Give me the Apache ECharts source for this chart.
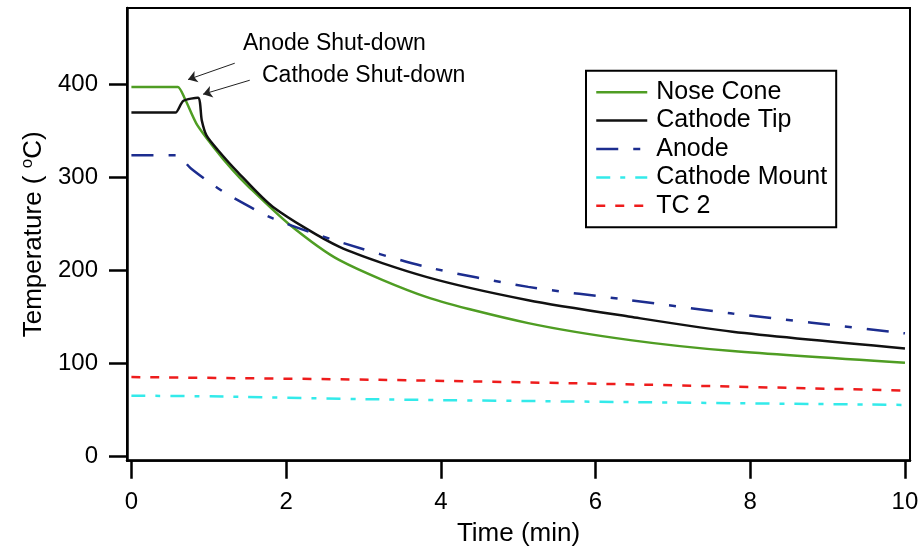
<!DOCTYPE html>
<html>
<head>
<meta charset="utf-8">
<script src="https://cdn.jsdelivr.net/npm/echarts@6/dist/echarts.min.js"></script>
<style>html,body{margin:0;padding:0;background:#fff}#c{width:924px;height:554px}</style>
</head>
<body>
<div id="c"></div>
<script>
// ---- data (time in min, temperature in °C) ----
const seriesNames = ['Nose Cone', 'Cathode Tip', 'Anode', 'Cathode Mount', 'TC 2'];
const noseCone = [[0,397],[0.5,397],[0.6,397],[0.69,384.6],[0.84,357.7],[1.06,332.6],[1.31,307.5],[1.5,291],[2.03,250],[2.69,210.8],[3.81,171.3],[5.13,143],[6.45,124.7],[7.77,112.9],[10,100.3]];
const cathodeTip = [[0,369.5],[0.5,369.5],[0.57,369.5],[0.67,382],[0.86,385.5],[0.91,361],[0.97,345],[1.12,329],[1.38,305],[1.83,268],[2.69,225],[3.81,192.8],[5.13,167.7],[6.45,149.8],[7.77,133.7],[10,115.8]];
const anode = [[0,323.7],[0.5,323.7],[0.58,323.7],[0.77,309.4],[1.06,291.4],[1.30,278.8],[1.83,255.6],[2.62,232.3],[3.81,203.5],[5.13,182],[6.45,167.7],[7.77,153.4],[10,132]];
const cathodeMount = [[0,65],[1.2,64],[3.2,61],[6.5,58],[10,55]];
const tc2 = [[0,85],[3.2,82],[6.5,77],[10,70.5]];
const xTicks = [0, 2, 4, 6, 8, 10];
const yTicks = [0, 100, 200, 300, 400];
// annotation arrows: [tail, head] in data coordinates
const anodeArrow = [[1.336, 422.6], [0.732, 405]];
const cathodeArrow = [[1.53, 404.3], [0.926, 389.2]];
const annotationTexts = ['Anode Shut-down', 'Cathode Shut-down'];

const FONT = '"Liberation Sans", Arial, sans-serif';
const chart = echarts.init(document.getElementById('c'), null, {renderer: 'canvas'});

function lineSeries(name, data, color, type) {
  return {
    name: name, type: 'line', data: data, symbol: 'none', showSymbol: false,
    smooth: 0.25, silent: true, animation: false,
    lineStyle: {color: color, width: 2.5, type: type},
    itemStyle: {color: color},
    emphasis: {disabled: true}
  };
}

const series = [
  lineSeries(seriesNames[0], noseCone, '#4f9d23', 'solid'),
  lineSeries(seriesNames[1], cathodeTip, '#111111', 'solid'),
  lineSeries(seriesNames[2], anode, '#1c2d8f', [22, 15, 7, 15]),
  lineSeries(seriesNames[3], cathodeMount, '#33eaea', [14, 10, 5, 10]),
  lineSeries(seriesNames[4], tc2, '#ee1c1c', [9, 10])
];
series[1].markLine = {
  silent: true, animation: false,
  symbol: ['none', 'arrow'], symbolSize: 9,
  lineStyle: {color: '#222', width: 1, type: 'solid'},
  label: {show: false},
  emphasis: {disabled: true},
  data: [
    [{coord: anodeArrow[0]}, {coord: anodeArrow[1]}],
    [{coord: cathodeArrow[0]}, {coord: cathodeArrow[1]}]
  ]
};

chart.setOption({
  animation: false,
  backgroundColor: '#fff',
  grid: {
    left: 127, right: 14, top: 8, bottom: 93.3,
    show: true, borderColor: '#000', borderWidth: 2, backgroundColor: 'transparent',
    containLabel: false, outerBoundsMode: 'none'
  },
  legend: {
    orient: 'vertical', left: 586, top: 70.7,
    data: seriesNames,
    backgroundColor: '#fff',
    borderColor: '#000', borderWidth: 2, borderRadius: 0,
    padding: [9, 9, 9, 9],
    itemWidth: 51, itemHeight: 20, itemGap: 3.4,
    selectedMode: false,
    itemStyle: {color: 'transparent', borderColor: 'transparent', borderWidth: 0, opacity: 0},
    lineStyle: {width: 2.5},
    textStyle: {fontSize: 25, fontFamily: FONT, color: '#000', padding: [0, 0, 0, 4]}
  },
  xAxis: {
    type: 'value', min: -0.057, max: 10.065,
    name: 'Time (min)', nameLocation: 'middle', nameGap: 60,
    nameTextStyle: {fontSize: 26, fontFamily: FONT, color: '#000'},
    axisLine: {show: true, onZero: false, lineStyle: {color: '#000', width: 2.5}},
    axisTick: {show: true, length: 18, inside: false, customValues: xTicks, lineStyle: {color: '#000', width: 2.5}},
    axisLabel: {show: true, margin: 30, customValues: xTicks, fontSize: 24, fontFamily: FONT, color: '#000',
      formatter: v => String(v)},
    splitLine: {show: false}
  },
  yAxis: {
    type: 'value', min: -5, max: 482,
    name: 'Temperature ( {sup|o}C)', nameLocation: 'middle', nameGap: 72, nameRotate: 90,
    nameTextStyle: {fontSize: 26, fontFamily: FONT, color: '#000',
      rich: {sup: {fontSize: 17, fontFamily: FONT, color: '#000', padding: [0, 0, 13, 0]}}},
    axisLine: {show: true, onZero: false, lineStyle: {color: '#000', width: 2.5}},
    axisTick: {show: true, length: 18, inside: false, customValues: yTicks, lineStyle: {color: '#000', width: 2.5}},
    axisLabel: {show: true, margin: 29, customValues: yTicks, fontSize: 24, fontFamily: FONT, color: '#000',
      formatter: v => String(v)},
    splitLine: {show: false}
  },
  graphic: [
    {type: 'text', silent: true, style: {x: 243, y: 44, text: annotationTexts[0], font: '23px ' + FONT, fill: '#000', verticalAlign: 'middle', align: 'left'}},
    {type: 'text', silent: true, style: {x: 262, y: 75.5, text: annotationTexts[1], font: '23px ' + FONT, fill: '#000', verticalAlign: 'middle', align: 'left'}}
  ],
  series: series
});
</script>
</body>
</html>
